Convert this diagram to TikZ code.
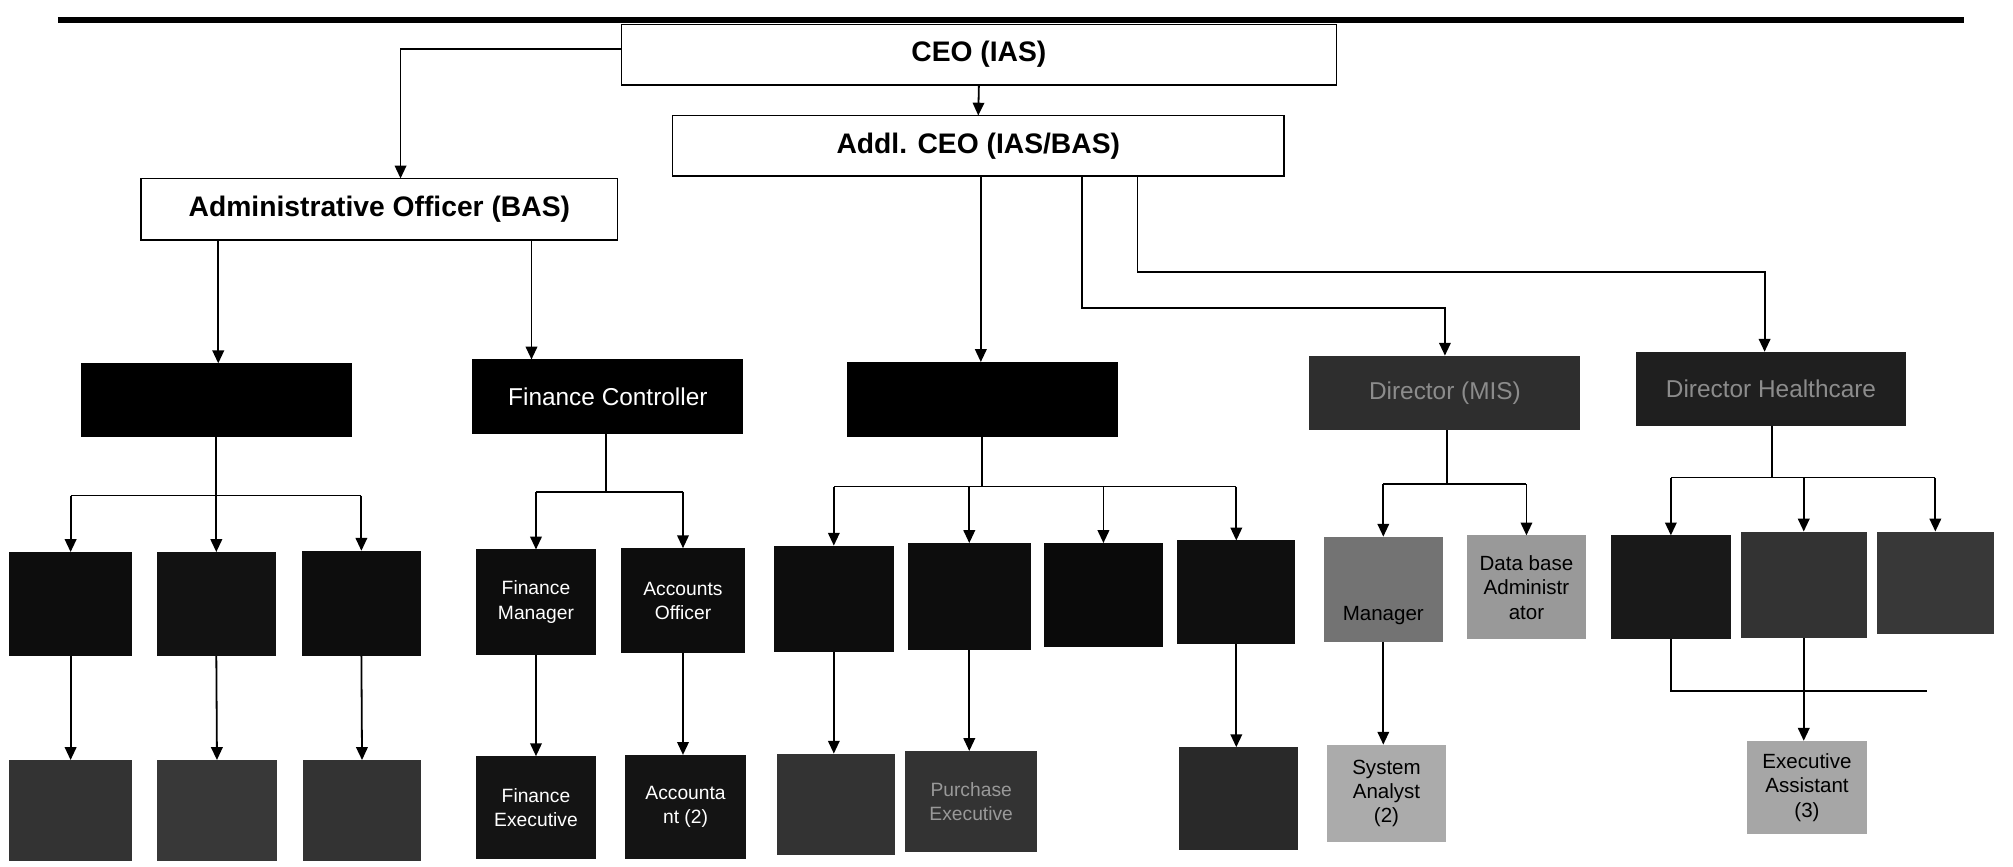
\documentclass[tikz,border=0pt]{standalone}
\usepackage{fontspec}
\setmainfont{Liberation Sans}
\usetikzlibrary{arrows.meta}
\newcommand{\obox}[7]{\node[#6, minimum width={(#4-#2)*0.5pt}, minimum height={(#5-#3)*0.5pt}] (#1) at ({(#2+#4)/2},{(#3+#5)/2}) {#7};}
\begin{document}
\begin{tikzpicture}[x=0.5pt,y=-0.5pt,
  conn/.style={line width=0.7pt, draw=black},
  arr/.style={conn, -{Triangle[length=5pt,width=4.5pt]}},
  topbox/.style={draw=black, line width=0.6pt, fill=white, inner sep=0pt, outer sep=0pt, font=\fontsize{11}{13}\selectfont\bfseries},
  dbox/.style={fill=#1, inner sep=0pt, outer sep=0pt, align=center, text=white, font=\fontsize{7.5}{9.5}\selectfont},
  hbox/.style={fill=#1, inner sep=0pt, outer sep=0pt, align=center, text=white, font=\fontsize{9.5}{11}\selectfont},
  gbox/.style={fill=#1, inner sep=0pt, outer sep=0pt, align=center, text=black, font=\fontsize{8}{9.5}\selectfont},
]
\useasboundingbox[fill=white] (0,0) rectangle (1568,675);
% top rule
\draw[line width=2pt] (45,15.6) -- (1530,15.6);
% top boxes
\obox{ceo}{484}{19}{1041}{66}{topbox}{CEO (IAS)}
\obox{addl}{524}{90}{1000}{137}{topbox}{Addl. CEO (IAS/BAS)}
\obox{admin}{110}{139}{481}{187}{topbox}{Administrative Officer (BAS)}
% level 2
\obox{A}{63}{283}{274}{340}{hbox=black}{}
\obox{fc}{368}{280}{579}{338}{hbox=black}{Finance Controller}
\obox{prog}{660}{282}{871}{340}{hbox=black}{}
\obox{mis}{1020}{277}{1231}{335}{hbox={black!82}, text=black!45}{Director (MIS)}
\obox{hc}{1274}{274}{1485}{332}{hbox={black!88}, text=black!45}{Director Healthcare}
% admin group
\obox{A1}{7}{430}{103}{511}{dbox=black!95}{}
\obox{A2}{122}{430}{215}{511}{dbox=black!93}{}
\obox{A3}{235}{429}{328}{511}{dbox=black!95}{}
\obox{A1b}{7}{592}{103}{671}{dbox=black!80}{}
\obox{A2b}{122}{592}{216}{671}{dbox=black!78}{}
\obox{A3b}{236}{592}{328}{671}{dbox=black!80}{}
% finance group
\obox{fm}{371}{428}{464}{510}{dbox=black!95}{Finance\\Manager}
\obox{ao}{484}{427}{580}{509}{dbox=black!95}{Accounts\\Officer}
\obox{fe}{371}{589}{464}{669}{dbox=black!92}{Finance\\Executive}
\obox{acc}{487}{588}{581}{669}{dbox=black!92}{Accounta\\nt (2)}
% program group
\obox{P1}{603}{425}{696}{508}{dbox=black!95}{}
\obox{P2}{707}{423}{803}{506}{dbox=black!95}{}
\obox{P3}{813}{423}{906}{504}{dbox=black!96}{}
\obox{P4}{917}{421}{1009}{502}{dbox=black!94}{}
\obox{P1b}{605}{587}{697}{666}{dbox=black!80}{}
\obox{P2b}{705}{585}{808}{664}{dbox=black!80, text=black!40}{Purchase\\Executive}
\obox{P4b}{918}{582}{1011}{662}{dbox=black!84}{}
% MIS group
\obox{M1}{1031}{418}{1124}{500}{gbox=black!55}{}
\node[gbox=black!55, anchor=base] (M1t) at (1077.5,483) {Manager};
\obox{M2}{1143}{417}{1235}{498}{gbox=black!40}{Data base\\Administr\\ator}
\obox{M1b}{1034}{580}{1126}{656}{gbox=black!33}{System\\Analyst\\(2)}
% healthcare group
\obox{H1}{1255}{417}{1348}{498}{dbox=black!90}{}
\obox{H2}{1356}{414}{1454}{497}{dbox=black!80}{}
\obox{H3}{1462}{414}{1553}{494}{dbox=black!78}{}
\obox{EA}{1361}{577}{1454}{650}{gbox=black!35}{Executive\\Assistant\\(3)}
\coordinate (hend) at (1501,538);
% connectors top
\draw[arr] ([yshift=2.25pt]ceo.west) -| (admin.north -| 312,0);
\draw[arr] (ceo.south) -- (addl.north);
\draw[arr] (admin.south -| 170,0) -- (A.north -| 170,0);
\draw[arr] (admin.south -| 414,0) -- (fc.north -| 414,0);
\draw[arr] (addl.south -| 764,0) -- (prog.north -| 764,0);
\draw[arr] (addl.south -| 843,0) -- (843,240) -| (mis.north);
\draw[arr] (addl.south -| 886,0) -- (886,212) -| ([xshift=-2.5pt]hc.north);
% admin children
\draw[conn] (A.south -| 168,0) -- (168,386);
\draw[conn] (A1.north |- 0,386) -- (A3.north |- 0,386);
\foreach \c in {A1,A2,A3} {\draw[arr] (\c.north |- 0,386) -- (\c.north);}
\draw[arr] (A1.south) -- (A1b.north);
\draw[arr] (A2.south) -- (A2b.north);
\draw[arr] (A3.south) -- (A3b.north);
% finance children
\draw[conn] (fc.south -| 472,0) -- (472,383);
\draw[conn] (fm.north |- 0,383) -- (ao.north |- 0,383);
\foreach \c in {fm,ao} {\draw[arr] (\c.north |- 0,383) -- (\c.north);}
\draw[arr] (fm.south) -- (fe.north);
\draw[arr] (ao.south) -- (acc.north -| ao.south);
% program children
\draw[conn] (prog.south -| 765,0) -- (765,379);
\draw[conn] (P1.north |- 0,379) -- (P4.north |- 0,379);
\foreach \c in {P1,P2,P3,P4} {\draw[arr] (\c.north |- 0,379) -- (\c.north);}
\draw[arr] (P1.south) -- (P1b.north -| P1.south);
\draw[arr] (P2.south) -- (P2b.north -| P2.south);
\draw[arr] (P4.south) -- (P4b.north -| P4.south);
% MIS children
\draw[conn] (mis.south -| 1127,0) -- (1127,377);
\draw[conn] (M1.north |- 0,377) -- (M2.north |- 0,377);
\foreach \c in {M1,M2} {\draw[arr] (\c.north |- 0,377) -- (\c.north);}
\draw[arr] (M1.south) -- (M1b.north -| M1.south);
% healthcare children
\draw[conn] (hc.south -| 1380,0) -- (1380,372);
\draw[conn] (H1.north |- 0,372) -- (H3.north |- 0,372);
\foreach \c in {H1,H2,H3} {\draw[arr] (\c.north |- 0,372) -- (\c.north);}
\draw[conn] (H1.south) |- (hend);
\draw[arr] (H2.south) -- (EA.north -| H2.south);
\end{tikzpicture}
\end{document}
